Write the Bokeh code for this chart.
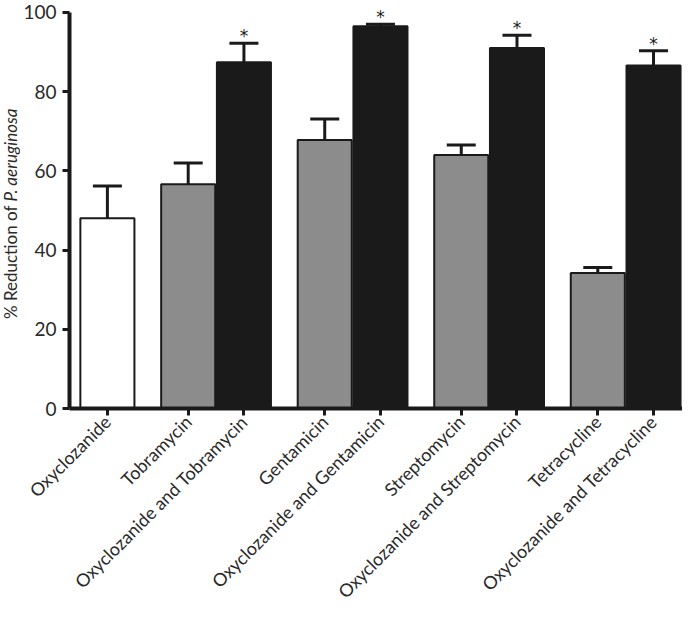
import math
from bokeh.plotting import figure
from bokeh.layouts import row
from bokeh.models import Range1d, ColumnDataSource, Whisker, TeeHead, FixedTicker
from bokeh.core.properties import value
from bokeh.embed import file_html
from bokeh.resources import INLINE

# ---- data ----
labels = ["Oxyclozanide", "Tobramycin", "Oxyclozanide and Tobramycin",
          "Gentamicin", "Oxyclozanide and Gentamicin",
          "Streptomycin", "Oxyclozanide and Streptomycin",
          "Tetracycline", "Oxyclozanide and Tetracycline"]
group_id = [0, 1, 1, 2, 2, 3, 3, 4, 4]
kind = ["alone", "antibiotic", "combo", "antibiotic", "combo",
        "antibiotic", "combo", "antibiotic", "combo"]
means = [48.0, 56.6, 87.4, 67.8, 96.5, 64.0, 91.0, 34.2, 86.6]
upper = [56.2, 62.0, 92.2, 73.1, 97.0, 66.5, 94.2, 35.6, 90.3]
significant = [False, False, True, False, True, False, True, False, True]
y_ticks = [0, 20, 40, 60, 80, 100]
y_label_main = "% Reduction of"
y_label_species = "P. aeruginosa"

# ---- styling ----
GAP = 0.45
FONT = "Lato"
INK = "#1a1a1a"
TXT = "#2a2a2a"
colors = {"alone": "#ffffff", "antibiotic": "#8c8c8c", "combo": INK}
H = 613
BORDER_TOP = 0
BORDER_BOTTOM = 190
LABEL_W = 20

xs = [i + g * GAP for i, g in enumerate(group_id)]
src = ColumnDataSource(dict(x=xs, top=means, upper=upper,
                            color=[colors[k] for k in kind], label=labels))

yr = Range1d(0, 103)
p = figure(width=682 - LABEL_W, height=H, output_backend="svg", toolbar_location=None,
           x_range=Range1d(-0.68, xs[-1] + 0.52), y_range=yr,
           min_border_left=0, min_border_right=0,
           min_border_top=BORDER_TOP, min_border_bottom=BORDER_BOTTOM)
p.outline_line_color = None
p.xgrid.visible = False
p.ygrid.visible = False

whisk = Whisker(source=src, base="x", lower="top", upper="upper",
                line_color=INK, line_width=3,
                upper_head=TeeHead(size=29, line_width=3, line_color=INK),
                lower_head=None)
p.add_layout(whisk)

p.vbar(x="x", top="top", bottom=0, width=0.97, source=src,
       fill_color="color", line_color=INK, line_width=2)

sig = ColumnDataSource(dict(x=[x for x, s in zip(xs, significant) if s],
                            y=[u for u, s in zip(upper, significant) if s],
                            t=["*"] * sum(significant)))
p.text(x="x", y="y", text="t", source=sig, text_align="center",
       text_baseline="middle", text_font=value("DejaVu Sans"),
       text_font_size="17px", text_color=INK, y_offset=-7)

# axes
for ax in (p.xaxis[0], p.yaxis[0]):
    ax.axis_line_width = 4
    ax.axis_line_color = INK
    ax.major_tick_line_width = 3
    ax.major_tick_line_color = INK
    ax.major_tick_in = 0
    ax.major_tick_out = 7
    ax.minor_tick_line_color = None
    ax.major_label_text_font = FONT
    ax.major_label_text_color = TXT

p.yaxis.major_label_text_font_size = "19px"
p.xaxis.major_label_text_font_size = "18px"
p.yaxis.ticker = FixedTicker(ticks=y_ticks)
p.yaxis.bounds = (0, 100)
p.yaxis.major_label_standoff = 6
p.xaxis.ticker = FixedTicker(ticks=xs)
p.xaxis.major_label_overrides = {x: l for x, l in zip(xs, labels)}
p.xaxis.major_label_orientation = math.pi / 4
p.xaxis.major_label_standoff = 3

# y-axis title panel (normal + italic parts)
lab = figure(width=LABEL_W, height=H, output_backend="svg", toolbar_location=None,
             x_range=Range1d(0, 1), y_range=yr,
             x_axis_location=None, y_axis_location=None,
             min_border_left=0, min_border_right=0,
             min_border_top=BORDER_TOP, min_border_bottom=BORDER_BOTTOM)
lab.outline_line_color = None
lab.xgrid.visible = False
lab.ygrid.visible = False
ymid = 52
lab.text(x=[0.5], y=[ymid], text=[y_label_main], angle=math.pi / 2,
         text_align="right", text_baseline="middle", y_offset=3,
         text_font=value(FONT), text_font_size="17px", text_color=TXT)
lab.text(x=[0.5], y=[ymid], text=[y_label_species], angle=math.pi / 2,
         text_align="left", text_baseline="middle", y_offset=-1,
         text_font=value(FONT), text_font_size="17px", text_font_style="italic",
         text_color=TXT)

layout = row(lab, p)
open("out.html", "w").write(file_html(layout, INLINE))
